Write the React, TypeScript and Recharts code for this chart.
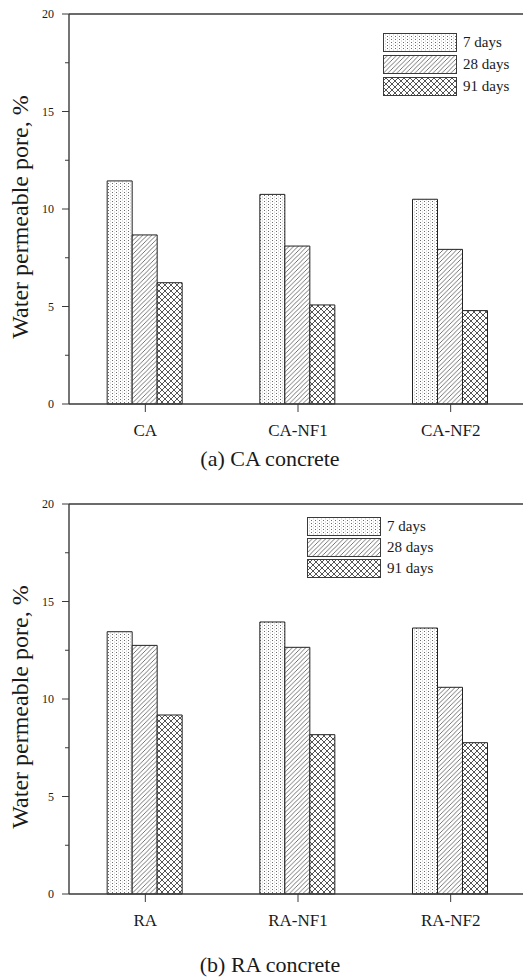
import React from 'react';
import { BarChart, Bar, XAxis, YAxis, ReferenceLine, Legend } from 'recharts';

// Water permeable pore (%) at 7, 28 and 91 days
const categoriesA = ['CA', 'CA-NF1', 'CA-NF2'];
const days7A = [11.44, 10.75, 10.5];
const days28A = [8.67, 8.1, 7.93];
const days91A = [6.22, 5.08, 4.79];

const categoriesB = ['RA', 'RA-NF1', 'RA-NF2'];
const days7B = [13.45, 13.95, 13.64];
const days28B = [12.75, 12.65, 10.6];
const days91B = [9.18, 8.17, 7.76];

const seriesLabels = ['7 days', '28 days', '91 days'];
const seriesKeys = ['d7', 'd28', 'd91'];
const yTicks = [0, 2.5, 5, 7.5, 10, 12.5, 15, 17.5, 20];

const FONT = '"Liberation Serif", "Times New Roman", serif';
const INK = '#1a1a1a';
const AXIS = '#3a3a3a';

const buildRows = (cats: string[], a: number[], b: number[], c: number[]) =>
  cats.map((name, i) => ({ name, d7: a[i], d28: b[i], d91: c[i] }));

const PatternDefs = ({ prefix }: { prefix: string }) => (
  <defs>
    <pattern id={`${prefix}-dots`} patternUnits="userSpaceOnUse" width="4" height="3">
      <rect width="4" height="3" fill="#ffffff" />
      <rect x="0" y="0" width="1" height="1" fill="#6a6a6a" />
      <rect x="2" y="1.5" width="1" height="1" fill="#c0c0c0" />
    </pattern>
    <pattern id={`${prefix}-hatch`} patternUnits="userSpaceOnUse" width="4.5" height="4.5">
      <rect width="4.5" height="4.5" fill="#ffffff" />
      <path d="M-1,1 L1,-1 M0,4.5 L4.5,0 M3.5,5.5 L5.5,3.5" stroke="#3a3a3a" strokeWidth="0.7" />
    </pattern>
    <pattern id={`${prefix}-cross`} patternUnits="userSpaceOnUse" width="6" height="6">
      <rect width="6" height="6" fill="#ffffff" />
      <path d="M-1,1 L1,-1 M0,6 L6,0 M5,7 L7,5" stroke="#2a2a2a" strokeWidth="0.8" />
      <path d="M-1,5 L1,7 M0,0 L6,6 M5,-1 L7,1" stroke="#2a2a2a" strokeWidth="0.8" />
    </pattern>
  </defs>
);

const fills = (prefix: string) => [`url(#${prefix}-dots)`, `url(#${prefix}-hatch)`, `url(#${prefix}-cross)`];

const YTick = (props: any) => {
  const { x, y, payload } = props;
  const v = payload.value as number;
  const major = v % 5 === 0;
  return (
    <g>
      <line x1={x - (major ? 7 : 4)} x2={x} y1={y} y2={y} stroke={AXIS} strokeWidth={1} />
      {major && (
        <text x={x - 15} y={y + 4} textAnchor="end" fontFamily={FONT} fontSize={12} fill={INK}>
          {v}
        </text>
      )}
    </g>
  );
};

const XTick = (props: any) => {
  const { x, y, payload } = props;
  return (
    <g>
      <line x1={x} x2={x} y1={y} y2={y + 8} stroke={AXIS} strokeWidth={1} />
      <text x={x} y={y + 32} textAnchor="middle" fontFamily={FONT} fontSize={17} fill={INK}>
        {payload.value}
      </text>
    </g>
  );
};

const LegendBox = ({ prefix, pitch }: { prefix: string; pitch: number }) => {
  const f = fills(prefix);
  return (
    <svg width={150} height={pitch * 3} style={{ display: 'block' }}>
      {seriesLabels.map((label, i) => (
        <g key={label}>
          <rect x={0.5} y={i * pitch + 0.5} width={73} height={18} fill={f[i]} stroke={AXIS} strokeWidth={1} />
          <text x={80} y={i * pitch + 14} fontFamily={FONT} fontSize={15} fill={INK}>
            {label}
          </text>
        </g>
      ))}
    </svg>
  );
};

const YLabel = (props: any) => {
  const { viewBox, shift } = props;
  const cx = 20;
  const cy = viewBox.y + viewBox.height / 2 + shift;
  return (
    <text
      x={cx}
      y={cy}
      transform={`rotate(-90, ${cx}, ${cy})`}
      textAnchor="middle"
      dominantBaseline="central"
      fontFamily={FONT}
      fontSize={24}
      fill={INK}
    >
      Water permeable pore, %
    </text>
  );
};

type PanelProps = {
  prefix: string;
  rows: { name: string; d7: number; d28: number; d91: number }[];
  legendLeft: number;
  legendTop: number;
  legendPitch: number;
};

const Panel = ({ prefix, rows, legendLeft, legendTop, legendPitch }: PanelProps) => {
  const f = fills(prefix);
  return (
    <BarChart
      width={527}
      height={450}
      data={rows}
      margin={{ top: 14, right: 0, bottom: 0, left: 0 }}
      barGap={0}
      barCategoryGap="25%"
    >
      <PatternDefs prefix={prefix} />
      <XAxis
        dataKey="name"
        height={46}
        tickSize={0}
        tickMargin={0}
        tick={<XTick />}
        axisLine={{ stroke: AXIS, strokeWidth: 1.4 }}
        interval={0}
      />
      <YAxis
        width={69}
        domain={[0, 20]}
        ticks={yTicks}
        interval={0}
        tickSize={0}
        tickMargin={0}
        tick={<YTick />}
        axisLine={{ stroke: AXIS, strokeWidth: 1.4 }}
        label={<YLabel shift={8} />}
      />
      <ReferenceLine y={20} stroke={AXIS} strokeWidth={1.4} />
      <Legend
        layout="vertical"
        align="center"
        verticalAlign="middle"
        wrapperStyle={{ left: legendLeft, top: legendTop, width: 150 }}
        content={() => <LegendBox prefix={prefix} pitch={legendPitch} />}
      />
      {seriesKeys.map((k, i) => (
        <Bar
          key={k}
          dataKey={k}
          name={seriesLabels[i]}
          fill={f[i]}
          stroke="#222222"
          strokeWidth={1}
          isAnimationActive={false}
        />
      ))}
    </BarChart>
  );
};

const Caption = ({ top, children }: { top: number; children: React.ReactNode }) => (
  <div
    style={{
      position: 'absolute',
      top,
      left: 0,
      width: 540,
      textAlign: 'center',
      fontFamily: FONT,
      fontSize: 22,
      color: INK,
      lineHeight: '26px',
    }}
  >
    {children}
  </div>
);

export default function App() {
  const rowsA = buildRows(categoriesA, days7A, days28A, days91A);
  const rowsB = buildRows(categoriesB, days7B, days28B, days91B);
  return (
    <div
      style={{
        position: 'absolute',
        left: 0,
        top: 0,
        width: 523,
        height: 979,
        overflow: 'hidden',
        background: '#ffffff',
      }}
    >
      <div style={{ position: 'absolute', left: 0, top: 0 }}>
        <Panel prefix="pa" rows={rowsA} legendLeft={383} legendTop={33} legendPitch={22} />
      </div>
      <Caption top={446}>(a) CA concrete</Caption>
      <div style={{ position: 'absolute', left: 0, top: 490 }}>
        <Panel prefix="pb" rows={rowsB} legendLeft={307} legendTop={27} legendPitch={21} />
      </div>
      <Caption top={952}>(b) RA concrete</Caption>
    </div>
  );
}
